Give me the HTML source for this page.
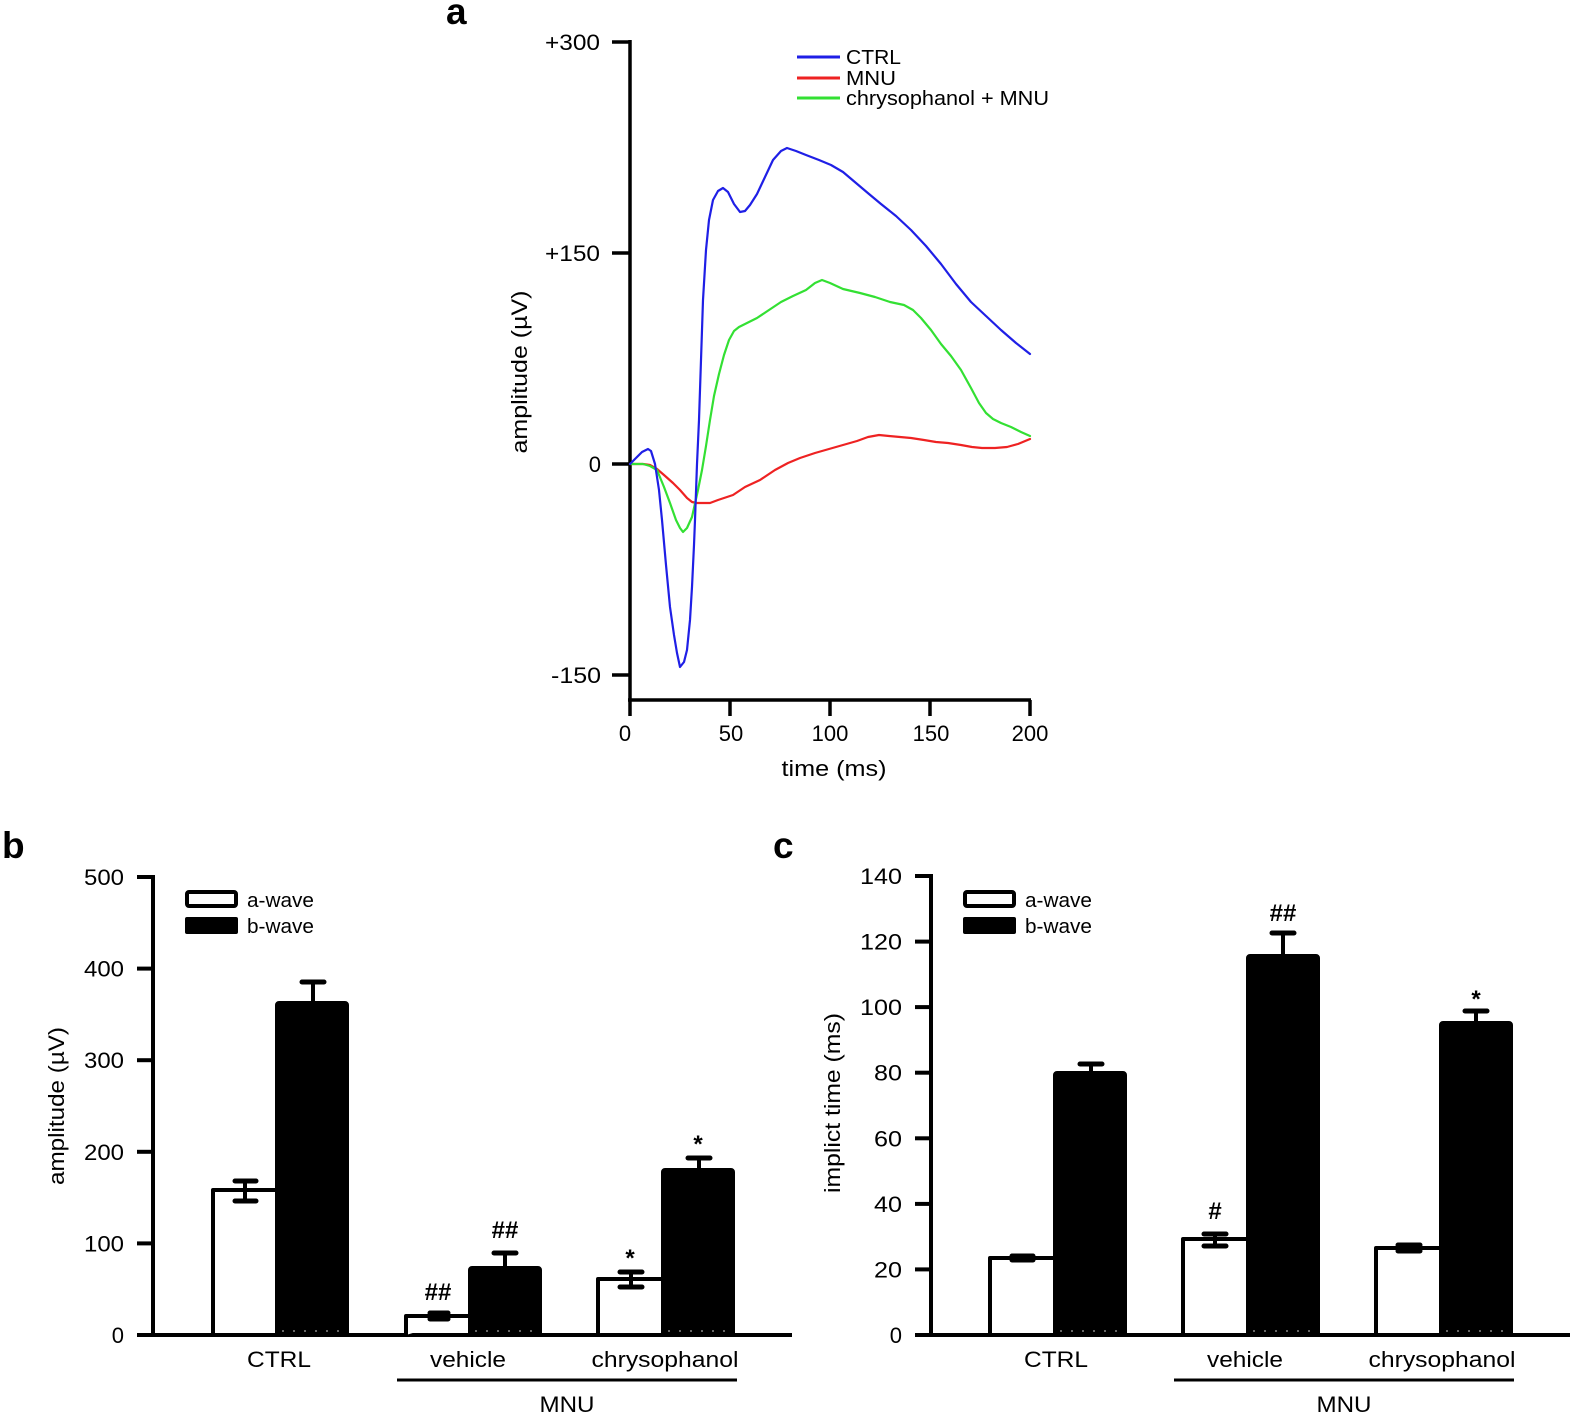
<!DOCTYPE html>
<html><head><meta charset="utf-8"><style>
html,body{margin:0;padding:0;background:#fff;}
svg{display:block;}
text{font-family:"Liberation Sans",Arial,sans-serif;fill:#000;}
.t{font-size:22px;}
.bold{font-weight:bold;}
</style></head><body>
<svg width="1575" height="1414" viewBox="0 0 1575 1414" xmlns="http://www.w3.org/2000/svg">
<rect width="1575" height="1414" fill="#fff"/>

<!-- ================= Panel a ================= -->
<text x="446" y="24" font-size="37" class="bold">a</text>
<g stroke="#000" stroke-width="3.5" fill="none">
  <line x1="630" y1="40" x2="630" y2="716"/>
  <line x1="628" y1="700" x2="1031" y2="700"/>
  <line x1="612" y1="42" x2="630" y2="42"/>
  <line x1="612" y1="253" x2="630" y2="253"/>
  <line x1="612" y1="464" x2="630" y2="464"/>
  <line x1="612" y1="675" x2="630" y2="675"/>
  <line x1="730" y1="700" x2="730" y2="716"/>
  <line x1="830" y1="700" x2="830" y2="716"/>
  <line x1="930" y1="700" x2="930" y2="716"/>
  <line x1="1030" y1="700" x2="1030" y2="716"/>
</g>
<g class="t" text-anchor="end">
  <text x="600" y="50" textLength="55" lengthAdjust="spacingAndGlyphs">+300</text>
  <text x="600" y="261" textLength="55" lengthAdjust="spacingAndGlyphs">+150</text>
  <text x="601" y="472">0</text>
  <text x="601" y="683" textLength="50" lengthAdjust="spacingAndGlyphs">-150</text>
</g>
<g class="t" text-anchor="middle">
  <text x="625" y="741">0</text>
  <text x="731" y="741">50</text>
  <text x="830" y="741">100</text>
  <text x="931" y="741">150</text>
  <text x="1030" y="741">200</text>
  <text x="834" y="776" textLength="105" lengthAdjust="spacingAndGlyphs">time (ms)</text>
</g>
<text class="t" text-anchor="middle" transform="translate(527,372) rotate(-90)" textLength="163" lengthAdjust="spacingAndGlyphs">amplitude (µV)</text>

<!-- legend a -->
<g stroke-width="3" fill="none">
  <line x1="797" y1="57" x2="840" y2="57" stroke="#1f1fe6"/>
  <line x1="797" y1="78" x2="840" y2="78" stroke="#ee2222"/>
  <line x1="797" y1="98" x2="840" y2="98" stroke="#33e033"/>
</g>
<g style="font-size:20px">
  <text x="846" y="64" textLength="55" lengthAdjust="spacingAndGlyphs">CTRL</text>
  <text x="846" y="85" textLength="50" lengthAdjust="spacingAndGlyphs">MNU</text>
  <text x="846" y="105" textLength="203" lengthAdjust="spacingAndGlyphs">chrysophanol + MNU</text>
</g>

<!-- curves -->
<g fill="none" stroke-width="2.2" stroke-linejoin="round" stroke-linecap="round">
<polyline stroke="#ee2222" points="630,464 643,464 650,465 657,469 664,475 673,483 680,490 687,498 692,502 697,503 705,503 710,503 718,500 733,495 745,487 760,480 775,470 788,463 800,458 815,453 829,449 843,445 857,441 868,437 879,435 889,436 900,437 911,438 924,440 936,442 948,443 961,445 972,447 982,448 995,448 1007,447 1018,444 1030,439"/>
<polyline stroke="#33e033" points="630,464 643,464 650,466 657,470 664,487 670,503 676,520 680,528 683,532 687,528 692,517 698,490 702,470 706,446 710,420 714,396 719,374 724,355 729,340 734,331 739,327 747,323 757,318 769,310 781,302 793,296 806,290 815,283 822,280 830,283 843,289 860,293 875,297 890,302 904,305 913,310 921,318 931,330 941,344 951,356 961,370 971,388 979,403 986,413 993,419 1001,423 1011,427 1021,432 1030,436"/>
<polyline stroke="#1f1fe6" points="630,464 636,458 642,452 648,449 651,451 655,464 659,490 662,520 666,565 670,607 674,635 677,653 680,667 684,662 687,650 690,620 692,587 694,545 695,520 697,464 699,420 701,360 703,300 706,250 709,220 713,200 718,191 723,188 728,192 734,204 740,212 745,211 750,205 757,194 765,177 773,160 781,151 787,148 796,151 806,155 819,160 831,165 843,172 856,183 869,194 881,204 896,216 911,230 926,246 941,264 956,284 971,302 986,316 1001,330 1016,343 1030,354"/>
</g>

<!-- ================= Panel b ================= -->
<text x="2" y="858" font-size="37" class="bold">b</text>
<g stroke="#000" stroke-width="4" fill="none">
  <line x1="153" y1="875" x2="153" y2="1337"/>
  <line x1="151" y1="1335" x2="792" y2="1335"/>
  <line x1="137" y1="877" x2="153" y2="877"/>
  <line x1="137" y1="968.6" x2="153" y2="968.6"/>
  <line x1="137" y1="1060.2" x2="153" y2="1060.2"/>
  <line x1="137" y1="1151.8" x2="153" y2="1151.8"/>
  <line x1="137" y1="1243.4" x2="153" y2="1243.4"/>
  <line x1="137" y1="1335" x2="153" y2="1335"/>
</g>
<g class="t" text-anchor="end">
  <text x="124" y="885" textLength="40" lengthAdjust="spacingAndGlyphs">500</text>
  <text x="124" y="976.6" textLength="40" lengthAdjust="spacingAndGlyphs">400</text>
  <text x="124" y="1068.2" textLength="40" lengthAdjust="spacingAndGlyphs">300</text>
  <text x="124" y="1159.8" textLength="40" lengthAdjust="spacingAndGlyphs">200</text>
  <text x="124" y="1251.4" textLength="40" lengthAdjust="spacingAndGlyphs">100</text>
  <text x="124" y="1343">0</text>
</g>
<text class="t" text-anchor="middle" transform="translate(64,1106) rotate(-90)" textLength="158" lengthAdjust="spacingAndGlyphs">amplitude (µV)</text>

<!-- legend b -->
<rect x="187" y="892" width="49" height="14" rx="2" fill="#fff" stroke="#000" stroke-width="4"/>
<rect x="185" y="917" width="53" height="17" rx="2" fill="#000"/>
<g style="font-size:20px">
  <text x="247" y="907" textLength="67" lengthAdjust="spacingAndGlyphs">a-wave</text>
  <text x="247" y="933" textLength="67" lengthAdjust="spacingAndGlyphs">b-wave</text>
</g>

<!-- bars b -->
<g stroke="#000" stroke-width="4" stroke-linejoin="round">
  <path d="M213,1335 V1190 H277" fill="#fff"/>
  <rect x="277" y="1003" width="70" height="332" rx="2" fill="#000"/>
  <path d="M406,1335 V1316 H470" fill="#fff"/>
  <rect x="470" y="1268" width="70" height="67" rx="2" fill="#000"/>
  <path d="M598,1335 V1279 H663" fill="#fff"/>
  <rect x="663" y="1170" width="70" height="165" rx="2" fill="#000"/>
</g>
<!-- error bars b -->
<g stroke="#000" stroke-width="4" stroke-linecap="round">
  <line x1="245" y1="1181" x2="245" y2="1201"/>
  <line x1="235" y1="1181" x2="256" y2="1181" stroke-width="5"/>
  <line x1="235" y1="1201" x2="256" y2="1201" stroke-width="5"/>
  <line x1="313" y1="982" x2="313" y2="1003"/>
  <line x1="302" y1="982" x2="324" y2="982" stroke-width="5"/>
  <line x1="430" y1="1313" x2="448" y2="1313" stroke-width="5"/>
  <line x1="430" y1="1319" x2="448" y2="1319" stroke-width="5"/>
  <line x1="505" y1="1253" x2="505" y2="1268"/>
  <line x1="494" y1="1253" x2="516" y2="1253" stroke-width="5"/>
  <line x1="631" y1="1272" x2="631" y2="1287"/>
  <line x1="620" y1="1272" x2="642" y2="1272" stroke-width="5"/>
  <line x1="620" y1="1287" x2="642" y2="1287" stroke-width="5"/>
  <line x1="699" y1="1158" x2="699" y2="1170"/>
  <line x1="688" y1="1158" x2="710" y2="1158" stroke-width="5"/>
</g>
<g stroke="#888" stroke-width="1.5" stroke-dasharray="2,9">
  <line x1="282" y1="1331" x2="345" y2="1331"/>
  <line x1="475" y1="1331" x2="538" y2="1331"/>
  <line x1="668" y1="1331" x2="731" y2="1331"/>
</g>
<g font-size="24" class="bold" text-anchor="middle">
  <text x="438" y="1300">##</text>
  <text x="505" y="1238">##</text>
  <text x="630" y="1266">*</text>
  <text x="698" y="1152">*</text>
</g>
<g class="t" text-anchor="middle">
  <text x="279" y="1367" textLength="64" lengthAdjust="spacingAndGlyphs">CTRL</text>
  <text x="468" y="1367" textLength="76" lengthAdjust="spacingAndGlyphs">vehicle</text>
  <text x="665" y="1367" textLength="147" lengthAdjust="spacingAndGlyphs">chrysophanol</text>
  <text x="567" y="1412" textLength="55" lengthAdjust="spacingAndGlyphs">MNU</text>
</g>
<line x1="397" y1="1380" x2="737" y2="1380" stroke="#000" stroke-width="3"/>

<!-- ================= Panel c ================= -->
<text x="773" y="858" font-size="37" class="bold">c</text>
<g stroke="#000" stroke-width="4" fill="none">
  <line x1="931" y1="874" x2="931" y2="1337"/>
  <line x1="929" y1="1335" x2="1570" y2="1335"/>
  <line x1="915" y1="876" x2="931" y2="876"/>
  <line x1="915" y1="941.6" x2="931" y2="941.6"/>
  <line x1="915" y1="1007.1" x2="931" y2="1007.1"/>
  <line x1="915" y1="1072.7" x2="931" y2="1072.7"/>
  <line x1="915" y1="1138.3" x2="931" y2="1138.3"/>
  <line x1="915" y1="1203.9" x2="931" y2="1203.9"/>
  <line x1="915" y1="1269.4" x2="931" y2="1269.4"/>
  <line x1="915" y1="1335" x2="931" y2="1335"/>
</g>
<g class="t" text-anchor="end">
  <text x="902" y="884" textLength="42" lengthAdjust="spacingAndGlyphs">140</text>
  <text x="902" y="949.6" textLength="42" lengthAdjust="spacingAndGlyphs">120</text>
  <text x="902" y="1015.1" textLength="42" lengthAdjust="spacingAndGlyphs">100</text>
  <text x="902" y="1080.7" textLength="28" lengthAdjust="spacingAndGlyphs">80</text>
  <text x="902" y="1146.3" textLength="28" lengthAdjust="spacingAndGlyphs">60</text>
  <text x="902" y="1211.9" textLength="28" lengthAdjust="spacingAndGlyphs">40</text>
  <text x="902" y="1277.4" textLength="28" lengthAdjust="spacingAndGlyphs">20</text>
  <text x="902" y="1343">0</text>
</g>
<text class="t" text-anchor="middle" transform="translate(840,1103) rotate(-90)" textLength="180" lengthAdjust="spacingAndGlyphs">implict time (ms)</text>

<!-- legend c -->
<rect x="965" y="892" width="49" height="14" rx="2" fill="#fff" stroke="#000" stroke-width="4"/>
<rect x="963" y="917" width="53" height="17" rx="2" fill="#000"/>
<g style="font-size:20px">
  <text x="1025" y="907" textLength="67" lengthAdjust="spacingAndGlyphs">a-wave</text>
  <text x="1025" y="933" textLength="67" lengthAdjust="spacingAndGlyphs">b-wave</text>
</g>

<!-- bars c -->
<g stroke="#000" stroke-width="4" stroke-linejoin="round">
  <path d="M990,1335 V1258 H1055" fill="#fff"/>
  <rect x="1055" y="1073" width="70" height="262" rx="2" fill="#000"/>
  <path d="M1183,1335 V1239 H1248" fill="#fff"/>
  <rect x="1248" y="956" width="70" height="379" rx="2" fill="#000"/>
  <path d="M1376,1335 V1248 H1441" fill="#fff"/>
  <rect x="1441" y="1023" width="70" height="312" rx="2" fill="#000"/>
</g>
<g stroke="#000" stroke-width="4" stroke-linecap="round">
  <line x1="1012" y1="1256" x2="1033" y2="1256" stroke-width="5"/>
  <line x1="1012" y1="1260" x2="1033" y2="1260" stroke-width="5"/>
  <line x1="1091" y1="1064" x2="1091" y2="1073"/>
  <line x1="1080" y1="1064" x2="1102" y2="1064" stroke-width="5"/>
  <line x1="1215" y1="1234" x2="1215" y2="1246"/>
  <line x1="1204" y1="1234" x2="1226" y2="1234" stroke-width="5"/>
  <line x1="1204" y1="1246" x2="1226" y2="1246" stroke-width="5"/>
  <line x1="1283" y1="933" x2="1283" y2="956"/>
  <line x1="1272" y1="933" x2="1294" y2="933" stroke-width="5"/>
  <line x1="1398" y1="1245" x2="1420" y2="1245" stroke-width="5"/>
  <line x1="1398" y1="1251" x2="1420" y2="1251" stroke-width="5"/>
  <line x1="1476" y1="1011" x2="1476" y2="1023"/>
  <line x1="1465" y1="1011" x2="1487" y2="1011" stroke-width="5"/>
</g>
<g stroke="#888" stroke-width="1.5" stroke-dasharray="2,9">
  <line x1="1060" y1="1331" x2="1123" y2="1331"/>
  <line x1="1253" y1="1331" x2="1316" y2="1331"/>
  <line x1="1446" y1="1331" x2="1509" y2="1331"/>
</g>
<g font-size="24" class="bold" text-anchor="middle">
  <text x="1215" y="1219">#</text>
  <text x="1283" y="921">##</text>
  <text x="1476" y="1007">*</text>
</g>
<g class="t" text-anchor="middle">
  <text x="1056" y="1367" textLength="64" lengthAdjust="spacingAndGlyphs">CTRL</text>
  <text x="1245" y="1367" textLength="76" lengthAdjust="spacingAndGlyphs">vehicle</text>
  <text x="1442" y="1367" textLength="147" lengthAdjust="spacingAndGlyphs">chrysophanol</text>
  <text x="1344" y="1412" textLength="55" lengthAdjust="spacingAndGlyphs">MNU</text>
</g>
<line x1="1174" y1="1380" x2="1514" y2="1380" stroke="#000" stroke-width="3"/>
</svg>
</body></html>
